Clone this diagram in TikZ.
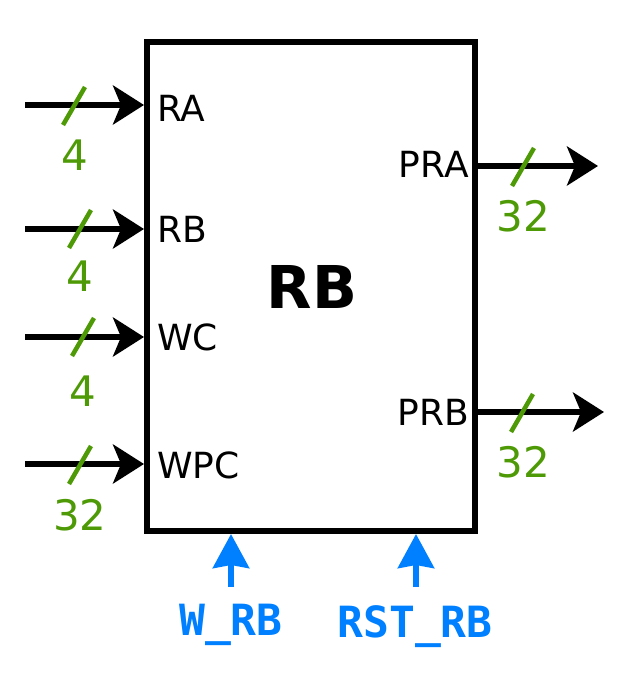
\documentclass[tikz,border=0pt]{standalone}
\usepackage{fontspec}
\setmainfont{DejaVu Sans}
\newfontfamily\sigfont{DejaVu Sans Mono}
\usetikzlibrary{arrows.meta, calc}
\definecolor{busgreen}{RGB}{78,154,6}
\definecolor{ctlblue}{RGB}{0,128,255}

\begin{document}
\begin{tikzpicture}[x=1pt,y=-1pt,
  port/.style={font=\fontsize{36}{42}\selectfont, inner sep=0pt},
  wire/.style={line width=6pt, -{Stealth[length=31pt,width=39pt,inset=8pt]}},
  slash/.style={busgreen, line width=4.5pt},
  buswidth/.style={busgreen, font=\fontsize{42}{46}\selectfont, inner sep=0pt, anchor=base},
  ctl/.style={ctlblue, line width=6pt, -{Stealth[length=34pt,width=36pt,inset=3pt]}},
  ctllabel/.style={ctlblue, font=\sigfont\bfseries\fontsize{43}{48}\selectfont, inner sep=0pt, anchor=base}]
  \useasboundingbox (0,0) rectangle (634,692);
  % register bank block
  \node[draw, line width=6pt, minimum width=328pt, minimum height=489pt, inner sep=0pt] (rb) at (311,286.5) {};
  \node[font=\bfseries\fontsize{59}{64}\selectfont, inner sep=0pt, anchor=base] (rbname) at (312,308) {RB};
  % port names
  \node[port, anchor=base west] (pRA) at (157,122) {RA};
  \node[port, anchor=base west] (pRB) at (157,243) {RB};
  \node[port, anchor=base west] (pWC) at (157,350) {WC};
  \node[port, anchor=base west] (pWPC) at (157,478) {WPC};
  \node[port, anchor=base east] (pPRA) at (469,178) {PRA};
  \node[port, anchor=base east] (pPRB) at (469,425) {PRB};
  % free ends of the wires
  \coordinate (inRA) at (25,105);
  \coordinate (inRB) at (25,229);
  \coordinate (inWC) at (25,337);
  \coordinate (inWPC) at (25,464);
  \coordinate (outPRA) at (598,166);
  \coordinate (outPRB) at (604,412);
  % input and output buses
  \draw[wire] (inRA) -- (inRA -| rb.west);
  \draw[wire] (inRB) -- (inRB -| rb.west);
  \draw[wire] (inWC) -- (inWC -| rb.west);
  \draw[wire] (inWPC) -- (inWPC -| rb.west);
  \draw[wire] (outPRA -| rb.east) -- (outPRA);
  \draw[wire] (outPRB -| rb.east) -- (outPRB);
  % bus slashes
  \coordinate (sRA) at (74,106);
  \coordinate (sRB) at (80,229);
  \coordinate (sWC) at (83,337);
  \coordinate (sWPC) at (80,465);
  \coordinate (sPRA) at (523,167);
  \coordinate (sPRB) at (522,413);
  \foreach \s in {sRA,sRB,sWC,sWPC,sPRA,sPRB}
    \draw[slash] ($(\s)+(-11,19)$) -- ($(\s)+(11,-19)$);
  % bus widths
  \node[buswidth] (wRA) at (75,171) {4};
  \node[buswidth] (wRB) at (80,291) {4};
  \node[buswidth] (wWC) at (83,406) {4};
  \node[buswidth] (wWPC) at (80,530) {32};
  \node[buswidth] (wPRA) at (523,232) {32};
  \node[buswidth] (wPRB) at (523,477) {32};
  % control signals
  \node[ctllabel] (wrb) at (231,635) {W\_RB};
  \node[ctllabel] (rstrb) at (415,637) {RST\_RB};
  \coordinate (wrbTail) at (231,587);
  \coordinate (rstTail) at (416,587);
  \draw[ctl] (wrbTail) -- (wrbTail |- rb.south);
  \draw[ctl] (rstTail) -- (rstTail |- rb.south);
\end{tikzpicture}
\end{document}
